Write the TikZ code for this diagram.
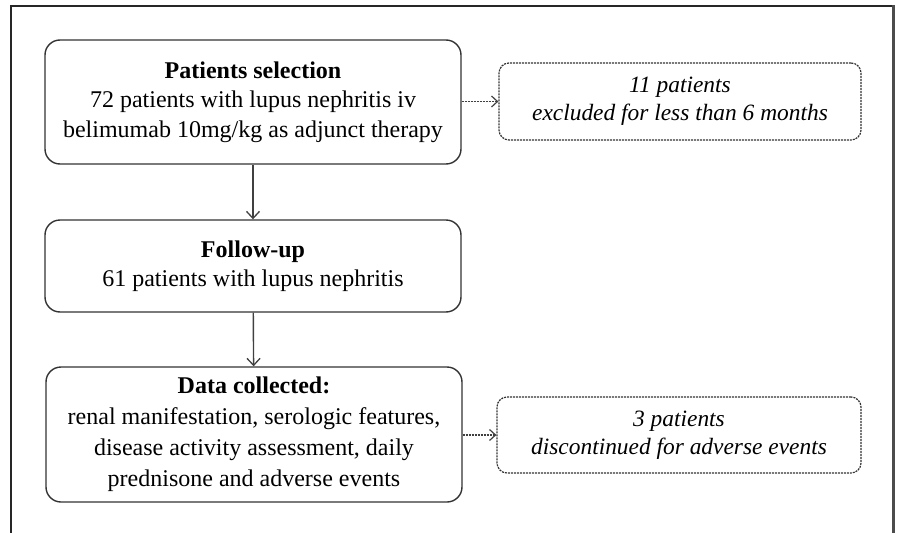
\documentclass[tikz,border=0pt]{standalone}
\usepackage{fontspec}
\setmainfont{Liberation Serif}
\usetikzlibrary{arrows.meta}
\begin{document}
\begin{tikzpicture}[x=1pt,y=-1pt,
  mainbox/.style={draw=black!80, line width=1.4pt, rounded corners=15pt, align=center,
    minimum width=416pt, inner sep=0pt, font=\fontsize{24}{29.5}\selectfont},
  sidebox/.style={draw=black!80, line width=1.2pt, dash pattern=on 2pt off 1pt, rounded corners=10pt,
    align=center, inner sep=0pt, font=\fontsize{23.4}{28}\selectfont\itshape},
  solidarrow/.style={draw=black!75, line width=1.4pt, -{Straight Barb[length=7pt,width=13pt,line width=1.3pt]}},
  dasharrow/.style={draw=black!75, line width=1.2pt, dash pattern=on 2pt off 1pt, -{Straight Barb[length=6pt,width=11pt,line width=1.2pt]}}]
\useasboundingbox (0,0) rectangle (898,533);
\draw[line width=1.4pt, black!85] (11,533) -- (11,6) -- (893,6);
\draw[line width=3pt, black!70] (893,5) -- (893,533);
\node[mainbox, minimum height=124pt] (sel) at (253,102)
  {\textbf{Patients selection}\\72 patients with lupus nephritis iv\\belimumab 10mg/kg as adjunct therapy};
\node[mainbox, minimum height=92pt] (fol) at (253,266)
  {\textbf{Follow-up}\\61 patients with lupus nephritis};
\node[mainbox, minimum height=135pt, font=\fontsize{24}{31}\selectfont] (dat) at (254,434.5)
  {\textbf{Data collected:}\\renal manifestation, serologic features,\\disease activity assessment, daily\\prednisone and adverse events};
\node[sidebox, minimum width=362pt, minimum height=77pt] (exc) at (680,101.5)
  {11 patients\\excluded for less than 6 months};
\node[sidebox, minimum width=364pt, minimum height=76pt] (dis) at (679,435)
  {3 patients\\discontinued for adverse events};
\draw[solidarrow] (sel) -- (fol);
\draw[solidarrow] (fol) -- (dat);
\draw[dasharrow] (sel.east |- exc.west) -- (exc.west);
\draw[dasharrow] (dat.east |- dis.west) -- (dis.west);
\end{tikzpicture}
\end{document}
